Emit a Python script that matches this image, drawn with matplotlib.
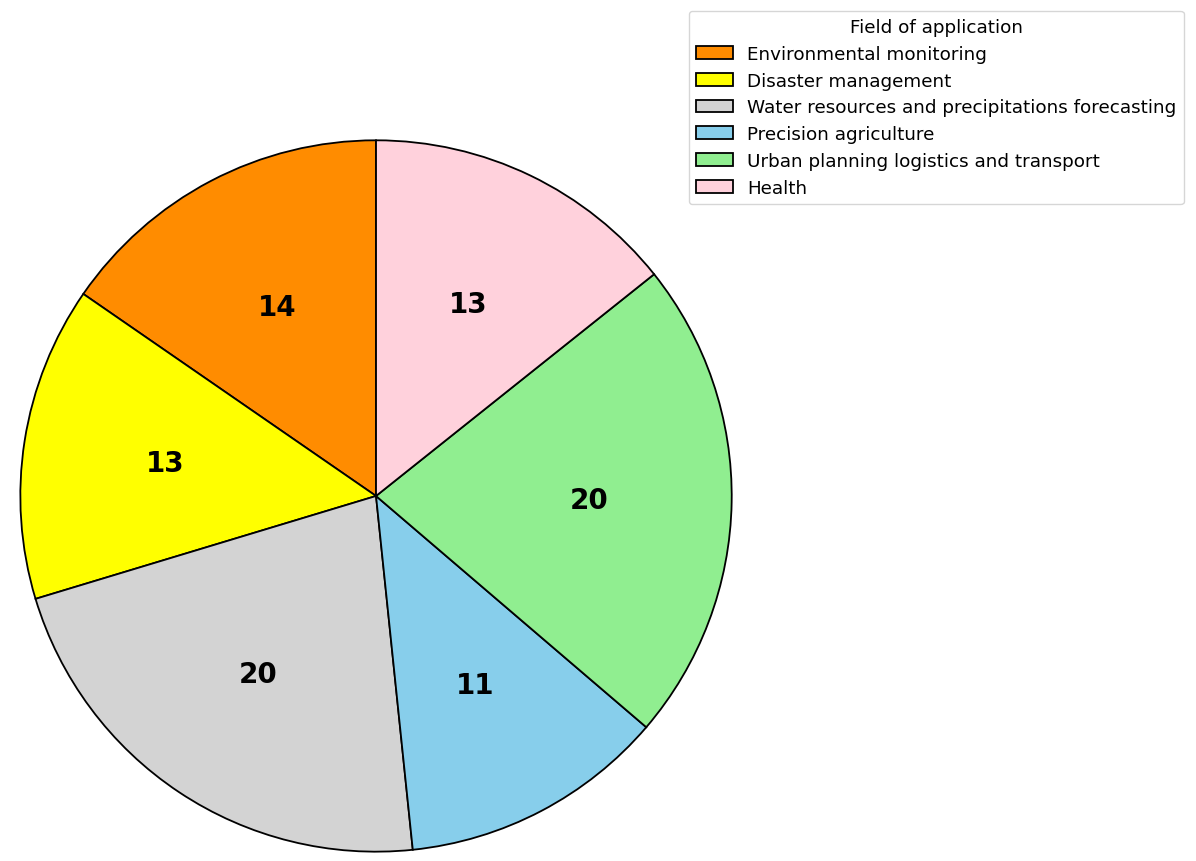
import matplotlib.pyplot as plt

# values per field of application
labels = ['Environmental monitoring', 'Disaster management',
          'Water resources and precipitations forecasting',
          'Precision agriculture', 'Urban planning logistics and transport',
          'Health']
counts = [14, 13, 20, 11, 20, 13]
colors = ['darkorange', 'yellow', 'lightgray', 'skyblue', 'lightgreen', '#ffd1dc']

total = sum(counts)

fig = plt.figure(figsize=(11.96, 8.62), dpi=100)
ax = fig.add_axes([0.0176, 0.0116, 0.5936, 0.8237])

wedges, texts, autotexts = ax.pie(
    counts, colors=colors, startangle=90,
    autopct=lambda p: '{:.0f}'.format(p * total / 100),
    pctdistance=0.6,
    wedgeprops={'edgecolor': 'black', 'linewidth': 1.3},
    textprops={'fontsize': 20, 'fontweight': 'bold', 'color': 'black'})
ax.set_aspect('equal')
ax.set_xlim(-0.998, 0.998)
ax.set_ylim(-0.998, 0.998)

fig.legend(wedges, labels, title='Field of application',
           loc='upper right', bbox_to_anchor=(0.9975, 0.997),
           fontsize=13.2, title_fontsize=13.2, labelspacing=0.48)

plt.savefig('out.png')
